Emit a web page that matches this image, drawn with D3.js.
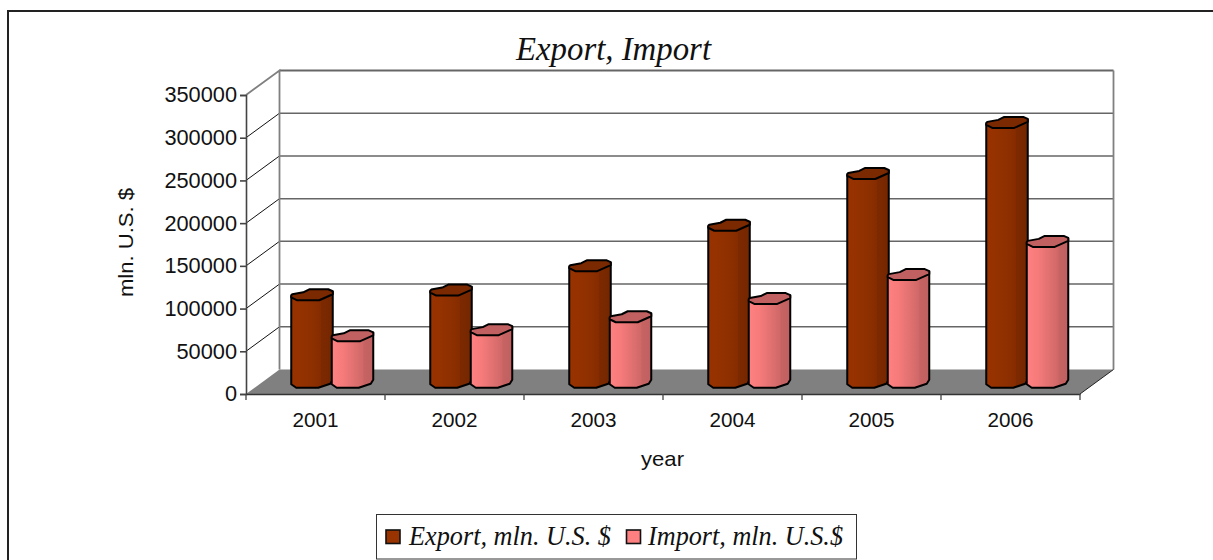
<!DOCTYPE html>
<html><head><meta charset="utf-8">
<style>html,body{margin:0;padding:0;background:#fff;overflow:hidden}svg{display:block}</style>
<script src="https://cdn.jsdelivr.net/npm/d3@7"></script></head>
<body><svg id="c" width="1213" height="560"></svg>
<script>
const years = ["2001","2002","2003","2004","2005","2006"];
const seriesNames = ["Export, mln. U.S. $","Import, mln. U.S.$"];
const exportValues = [101800,107300,135900,183200,243800,303600];
const importValues = [53800,61000,76100,97400,125400,164300];
const yTicks = [0,50000,100000,150000,200000,250000,300000,350000];

const svg = d3.select("#c");
const sans = "'Liberation Sans',Arial,sans-serif", serif = "'Liberation Serif','Times New Roman',serif";
const depth = {x:33.5,y:-24.5};
const x = d3.scaleBand().domain(years).range([246,1080]);
const s = d3.scaleBand().domain(seriesNames).range([0,81]);
const y = d3.scaleLinear().domain([0,350000]).range([394,95]);

const defs = svg.append("defs");
function grad(id,stops){
  const g = defs.append("linearGradient").attr("id",id);
  stops.forEach(([o,c])=>g.append("stop").attr("offset",o).attr("stop-color",c));
}
grad("gE",[[0,"#993300"],[.3,"#933100"],[.55,"#8c2f00"],[.7,"#862c00"],[.73,"#7c2900"],[1,"#752700"]]);
grad("gI",[[0,"#ff8080"],[.25,"#f77b7b"],[.55,"#e07070"],[.75,"#d06868"],[.78,"#c66363"],[1,"#c06060"]]);

svg.append("path").attr("d","M8,560V11H1213").attr("fill","none").attr("stroke","#222").attr("stroke-width",2);

const x0=x.range()[0], x1=x.range()[1], yB=y(0), yT=y(350000);
svg.append("path").attr("d",`M${x0},${yB}L${x0+depth.x},${yB+depth.y}H${x1+depth.x}L${x1},${yB}Z`).attr("fill","#808080");
const wall = svg.append("g");
yTicks.forEach(t=>{
  const Y=y(t);
  if(t>0 && t<350000) wall.append("line").attr("x1",x0).attr("y1",Y).attr("x2",x0+depth.x).attr("y2",Y+depth.y).attr("stroke","#111").attr("stroke-width",1);
  if(t>0) wall.append("line").attr("x1",x0+depth.x).attr("y1",Y+depth.y).attr("x2",x1+depth.x).attr("y2",Y+depth.y).attr("stroke","#666").attr("stroke-width",t==350000?1.8:1.5);
});
wall.append("path").attr("d",`M${x0},${yT}L${x0+depth.x},${yT+depth.y}V${yB+depth.y}M${x1+depth.x},${yT+depth.y}V${yB+depth.y}`).attr("fill","none").attr("stroke","#808080").attr("stroke-width",1.8);
wall.append("line").attr("x1",x1).attr("y1",yB).attr("x2",x1+depth.x).attr("y2",yB+depth.y).attr("stroke","#222").attr("stroke-width",1);

const ay = svg.append("g").attr("transform",`translate(${x0},0)`).call(d3.axisLeft(y).tickValues(yTicks).tickFormat(d3.format("d")).tickSize(6).tickPadding(3));
ay.selectAll("text").attr("font-family",sans).attr("font-size",21.5).attr("fill","#111").attr("textLength",function(){return this.textContent.length*12.1}).attr("lengthAdjust","spacingAndGlyphs");
ay.selectAll("line,path").attr("stroke","#444").attr("stroke-width",1.6);
const ax = svg.append("g").attr("transform",`translate(0,${yB})`).call(d3.axisBottom(x).tickSize(0).tickPadding(18));
ax.selectAll("text").attr("font-family",sans).attr("font-size",21).attr("fill","#111").attr("textLength",46).attr("lengthAdjust","spacingAndGlyphs");
ax.selectAll("path").attr("stroke","#333").attr("stroke-width",1.6);
ax.selectAll("g.tick line").remove();
ax.selectAll(".bt").data(years.concat("end")).enter().append("line").attr("class","bt")
  .attr("x1",(d,i)=>x0+i*x.step()).attr("x2",(d,i)=>x0+i*x.step()).attr("y1",0).attr("y2",6).attr("stroke","#444").attr("stroke-width",1.3);

const w=41.5;
function bar(g,cx,topY,baseY,fill,cap){
  const l=cx-w/2;
  const P=(dx,yy)=>[l+dx,yy];
  const front=[P(0,topY+1.5),P(0,baseY+1.5),P(5,baseY+5),P(27,baseY+5),P(39,baseY+1),P(w,baseY-3),P(w,topY-3)];
  const topOut=[P(0,topY+2.5),P(6,topY+5.5),P(28,topY+5.5),P(37,topY+1.5),P(w,topY-.5),P(w,topY-3.5),P(37,topY-5.5),P(18,topY-5.5),P(12,topY-2.5),P(1,topY-.5),P(0,topY+.5)];
  const line=d3.line();
  g.append("path").attr("d",line(front)+"Z").attr("fill",fill).attr("stroke","#000").attr("stroke-width",2).attr("stroke-linejoin","round");
  g.append("path").attr("d",line(topOut)+"Z").attr("fill",cap).attr("stroke","#000").attr("stroke-width",2).attr("stroke-linejoin","round");
}
const floorMid = yB + depth.y/2;
const gb = svg.append("g");
const h = v => y(0)-y(v);
years.forEach((yr,i)=>{
  const cx0 = x(yr)+x.bandwidth()/2 + depth.x/2 - s.range()[1]/2;
  bar(gb,cx0+s(seriesNames[0])+s.bandwidth()/2,floorMid-h(exportValues[i]),floorMid+1,"url(#gE)","#7a2900");
  bar(gb,cx0+s(seriesNames[1])+s.bandwidth()/2,floorMid-h(importValues[i]),floorMid+1,"url(#gI)","#c06060");
});

svg.append("text").attr("x",516).attr("y",60).attr("font-family",serif).attr("font-style","italic").attr("font-size",33).attr("fill","#111").attr("textLength",195).attr("lengthAdjust","spacingAndGlyphs").text("Export, Import");
svg.append("text").attr("transform","translate(133,297) rotate(-90)").attr("font-family",sans).attr("font-size",21).attr("fill","#111").attr("textLength",109).attr("lengthAdjust","spacingAndGlyphs").text("mln. U.S. $");
svg.append("text").attr("x",641).attr("y",466).attr("font-family",sans).attr("font-size",21).attr("fill","#111").attr("textLength",43).attr("lengthAdjust","spacingAndGlyphs").text("year");

svg.append("rect").attr("x",376.5).attr("y",514.5).attr("width",480).attr("height",44.5).attr("fill","#fff").attr("stroke","#333").attr("stroke-width",1);
const lg=[[386,"#993300",409,202],[626.5,"#ff8080",648,195]];
seriesNames.forEach((n,i)=>{
  svg.append("rect").attr("x",lg[i][0]).attr("y",530).attr("width",14).attr("height",13.5).attr("fill",lg[i][1]).attr("stroke","#111").attr("stroke-width",1.6);
  svg.append("text").attr("x",lg[i][2]).attr("y",545).attr("font-family",serif).attr("font-style","italic").attr("font-size",27).attr("fill","#111").attr("textLength",lg[i][3]).attr("lengthAdjust","spacingAndGlyphs").text(n);
});
</script></body></html>
